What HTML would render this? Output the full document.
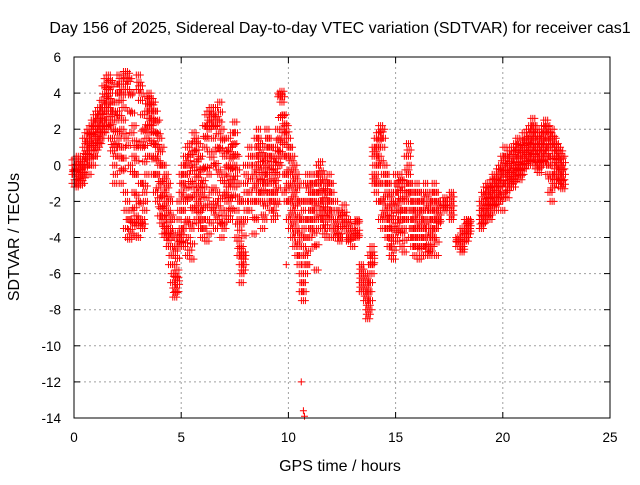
<!DOCTYPE html>
<html><head><meta charset="utf-8"><style>
body{margin:0;background:#fff}
svg{font-family:"Liberation Sans",sans-serif;font-size:13.5px}
</style></head><body>
<svg id="chart" width="640" height="480" viewBox="0 0 640 480" xmlns="http://www.w3.org/2000/svg">
<rect width="640" height="480" fill="#fff"/>
<text x="340" y="33" text-anchor="middle" font-size="16">Day 156 of 2025, Sidereal Day-to-day VTEC variation (SDTVAR) for receiver cas1</text>
<g id="grid"></g>
<g id="ticks"></g>
<g id="marks"></g>
<rect x="74" y="57" width="536" height="361" fill="none" stroke="#000" stroke-width="1"/>
<text x="340" y="471" text-anchor="middle" font-size="16">GPS time / hours</text>
<text transform="translate(19,237) rotate(-90)" text-anchor="middle" font-size="16">SDTVAR / TECUs</text>
</svg>
<script>
const xTicks=[0,5,10,15,20,25];
const yTicks=[6,4,2,0,-2,-4,-6,-8,-10,-12,-14];
const times=[0.0,0.1,0.2,0.3,0.4,0.5,0.6,0.7,0.8,0.9,1.0,1.1,1.2,1.3,1.4,1.5,1.6,1.7,1.8,1.9,2.0,2.1,2.2,2.3,2.4,2.5,2.6,2.7,2.8,2.9,3.0,3.1,3.2,3.3,3.4,3.5,3.6,3.7,3.8,3.9,4.0,4.1,4.2,4.3,4.4,4.5,4.6,4.7,4.8,4.9,5.0,5.1,5.2,5.3,5.4,5.5,5.6,5.7,5.8,5.9,6.0,6.1,6.2,6.3,6.4,6.5,6.6,6.7,6.8,6.9,7.0,7.1,7.2,7.3,7.4,7.5,7.6,7.7,7.8,7.9,8.0,8.2,8.4,8.5,8.6,8.7,8.8,8.9,9.0,9.1,9.2,9.3,9.4,9.5,9.6,9.7,9.8,9.9,10.0,10.1,10.2,10.3,10.4,10.5,10.6,10.7,10.8,10.9,11.0,11.1,11.2,11.3,11.4,11.5,11.6,11.7,11.8,11.9,12.0,12.2,12.4,12.6,12.8,13.0,13.2,13.4,13.6,13.7,13.8,13.9,14.0,14.1,14.2,14.3,14.4,14.5,14.6,14.7,14.8,14.9,15.0,15.1,15.2,15.3,15.4,15.5,15.6,15.7,15.8,15.9,16.0,16.1,16.2,16.3,16.4,16.5,16.6,16.7,16.8,16.9,17.0,17.3,17.6,17.9,18.1,18.3,18.4,19.0,19.1,19.2,19.3,19.4,19.5,19.6,19.7,19.8,19.9,20.0,20.1,20.2,20.3,20.4,20.5,20.6,20.7,20.8,20.9,21.0,21.1,21.2,21.3,21.4,21.5,21.6,21.7,21.8,21.9,22.0,22.1,22.2,22.3,22.4,22.5,22.6,22.7,22.8];
const values=[
[-0.5,0,-1,0.3],[-0.3,0.4,-0.8,-1.2],[0,-0.5,-1,0.5],[-0.2,0.3,-1.1,-0.6],[0.2,-0.4,-1,0],[1,0.3,-0.5,1.5],[1.8,0.8,0,1.2],[2,1.5,0.5,-0.5],[2.2,1.2,0.4,1.8],[2.5,1.8,1,0],
[2.8,2,1.2,0.5],[3,2.2,1.5,1],[3.2,2.5,1.8,1.2],[3.6,2.8,2.2,1.5],[4.4,3.5,2.5,1.8],[4.8,3.8,3,2],[5,4.2,3.2,2.2],[4.7,4,3,1.5],[3.5,2.5,1.5,0.8],[2.8,1,0,-1],
[4.5,3.5,2.5,1.2],[5,4,1.5,0.5],[4.8,3.6,0.4,-1],[3.9,2.5,1,-0.2],[5.2,4.5,-1.5,-3.5],[5.1,4.2,-2,-4],[4.8,3,-3,-4.1],[4,1.8,-2.5,-3.8],[2.2,0.5,-1.5,-3.2],[1,-0.5,-2.8,-3.9],
[5,4.2,-2,-4],[4.4,3.6,-1,-3.2],[2.8,1,-3,-3.5],[2,0.2,-2.5,-1.5],[3.8,3,1.5,-0.5],[4,3.4,2.6,1.8],[3.7,3,2.2,0.5],[3.5,2.5,1.2,-0.5],[3,1.8,0.5,-1.5],[2.5,1,-0.5,-2],
[1.5,0,-1.8,-2.8],[1,-1,-2.4,-3.2],[0,-1.5,-3,-3.8],[-0.5,-2,-3.5,-4],[-1,-2.5,-3.8,-4.5],[-2,-3.5,-4.5,-5.5],[-3,-4.5,-5.5,-6.5],[-4,-5.5,-6.8,-7.3],[-4.5,-5.8,-7,-6.2],[-2,-3,-4.5,-4],
[-0.5,-1.5,-3.5,-4.2],[0,-1,-2.5,-4.5],[0.5,-0.5,-2,-4.3],[1,-0.5,-3,-5],[1.2,0,-1.8,-4.7],[0.6,-1.2,-3.5,-5.2],[1.8,0.8,-1,-2.5],[1.5,0.2,-1.5,-3],[1.2,-0.5,-2,-3.2],[0.5,-1,-2.5,-3.5],
[-0.2,-1.5,-3,-4],[2.2,1,-1.2,-3.5],[2.8,1.5,-1.8,-4.2],[3,2,-0.5,-3.8],[3.2,2.4,-1.5,-3.2],[2.8,1.5,0,-2.5],[3.2,2.2,-2,-3.5],[2.5,1,-1.5,-3],[3.5,2.4,-0.5,-3.2],[2,0.8,-2.5,-4],
[1.5,-0.5,-2.8,-3.5],[0.8,-1,-2.5,-1.5],[1.5,0,-1.2,-2.8],[1,-0.2,-1.8,-3],[1.8,0.5,-0.8,-2.5],[2.4,1.2,0,-1.2],[0.5,-1,-2.5,-4],[-1,-3,-4.2,-5],[-2,-4.5,-5.5,-6.5],[-3,-4.8,-5.2,-5.8],
[0,-1,-2,-3],[1,0,-1.5,-2.5],[0.5,-0.5,-2,-3.8],[1.5,0.5,-1,-3],[2,1,0,-1.5],[1.2,0.2,-1,-2],[0.5,-0.8,-2,-3.5],[1,-0.5,-1.5,-3],
[2,1,0,-1],[1.5,0.5,-1,-2],[1,0,-1.5,-2.5],[0.2,-1,-2,-3],[1,-0.2,-1.5,-2.8],[2,0.8,-0.5,-2],[4,3.8,1.5,0],[4.1,3.5,2,0.5],[2.8,1.8,0.5,-1.5],[2.2,1.5,-0.5,-2],
[1.5,0.5,-1,-3],[1,-0.5,-2,-3.5],[0.5,-1,-2.5,-4],[0,-1.5,-3,-4.5],[-0.5,-2,-3.5,-5],[-1,-3,-4.5,-5.5],[-2,-4,-6,-7],[-2.5,-4.5,-6.5,-7.5],[-1,-3,-5,-6],[-0.5,-2,-4,-5.5],
[-1,-2,-3,-4],[-0.5,-1.5,-2.5,-3.5],[-1,-2,-3,-4.5],[-0.5,-1.5,-3,-5.8],[0,-1,-2,-3.5],[0.2,-0.8,-2,-3],[-0.5,-1.5,-2.5,-3.5],[-0.8,-1.8,-2.8,-3.8],[-1,-2,-3,-4],[-0.5,-1.5,-2.5,-3],
[-1,-2,-3,-4],[-2,-3,-3.5,-4],[-2.5,-3,-3.8,-4.2],[-2.2,-3,-3.5,-2.8],[-3,-3.5,-4,-4.2],[-3.5,-4,-3.5,-4.5],[-3,-3.2,-4,-3.8],[-5.5,-6,-6.5,-7],[-6,-6.5,-7,-7.5],[-6.5,-7.5,-8,-8.5],[-5,-6,-7,-8],[-4.5,-5.5,-4.8,-6],
[1,0.5,-0.5,-1],[1.5,0.5,-0.5,-1.5],[1.8,1,0,-2],[2.2,1.5,-1,-3],[2,1,-2,-3.5],[0,-1,-2.5,-3],[-0.5,-1.5,-3,-4],[-1,-2.5,-3.5,-4.5],[-1.5,-2.8,-4,-5],[-2,-3,-4.2,-5.2],
[-0.5,-1.5,-3,-4],[-1,-2,-3.2,-4.2],[-0.5,-1.2,-2.5,-3.5],[-0.8,-2,-3,-4.5],[-1,-2.5,-3.5,-4.8],[0.5,-1,-2,-3],[1.2,0.5,-0.5,-1.5],[-1,-2,-3,-4],[-1.5,-2.5,-3.5,-4.5],[-2,-3,-4,-5],
[-1,-2,-3.5,-4.5],[-1.5,-2.5,-4,-5.2],[-2,-3,-4,-5],[-1.5,-2.5,-3.5,-4.5],[-1,-2.5,-4,-5],[-1.5,-3,-4,-4.8],[-2,-3,-4.5,-5],[-1.5,-2.5,-3.5,-4.5],[-1,-2,-3,-4],[-1.5,-2.5,-3.5,-5],
[-2,-2.5,-3,-3.2],[-1.8,-2.2,-2.5,-2],[-3,-2.5,-2,-1.5],[-4,-4.5,-4,-4.2],[-3.5,-4,-4.5,-4.8],[-3,-3.5,-3.8,-4.2],[-3,-3.2,-3.5,-3.8],
[-2,-2.5,-3,-3.5],[-1.5,-2,-2.8,-3.2],[-1.2,-2,-2.5,-3],[-1,-1.5,-2.2,-2.8],[-1.2,-1.8,-2.5,-3],[-0.8,-1.5,-2,-2.5],[-0.5,-1,-1.8,-2.2],[-0.8,-1.2,-1.8,-2.5],[-0.2,-0.8,-1.5,-2],[0,-0.5,-1.2,-2],
[0.5,0,-1,-2.5],[1,0,-0.5,-1.5],[0.5,-0.3,-1,-1.8],[0.8,0,-0.8,-1.2],[1,0.2,-0.5,-1],[0.8,0,-0.6,-1.2],[1.2,0.5,-0.2,-0.8],[1.5,0.8,0,-0.5],[1,0.4,-0.3,-0.8],[1.4,0.8,0.2,-0.5],
[1.8,1,0.4,-0.2],[1.5,1,0.2,0.8],[2,1.2,0.5,0],[2.2,1.5,0.8,0.2],[2.6,1.8,1,0.3],[2.2,1.4,0.6,0],[2,1.2,0.5,-0.2],[1.5,0.8,0.2,-0.4],[1.8,1.2,0.5,0],[2.2,1.5,0.8,0.2],
[2.5,1.8,1,0.3],[2.2,1.5,0.5,-0.5],[1.8,1,0,-1.5],[2,1.2,-0.5,-2],[1.5,0.8,0,-1],[1.2,0.5,-0.2,-0.8],[1,0.3,-0.5,-1],[0.8,0,-0.5,-1.2],[0.5,-0.2,-0.8,-1.3]];
const outlierTimes=[10.6,10.7,10.75,9.9];
const outlierValues=[-12,-13.6,-13.9,-5.5];

const X0=74,X1=610,Y0=418,Y1=57;
function xs(t){return X0+(t-0)/(25-0)*(X1-X0);}
function ys(v){return Y0-(v-(-14))/(6-(-14))*(Y0-Y1);}
const NS='http://www.w3.org/2000/svg';
const grid=document.getElementById('grid'),ticks=document.getElementById('ticks'),marks=document.getElementById('marks');
function mk(tag,attrs,parent){const e=document.createElementNS(NS,tag);for(const k in attrs)e.setAttribute(k,attrs[k]);parent.appendChild(e);return e;}
xTicks.forEach(t=>{const x=xs(t);
 if(t>0&&t<25){const l=mk('line',{x1:x,x2:x,y1:Y1,y2:Y0,stroke:'#a0a0a0','stroke-dasharray':'2,3'},grid);
 
 }
 mk('line',{x1:x,x2:x,y1:Y0,y2:Y0-6,stroke:'#000'},ticks);
 mk('line',{x1:x,x2:x,y1:Y1,y2:Y1+6,stroke:'#000'},ticks);
 const tx=mk('text',{x:x,y:Y0+24,'text-anchor':'middle'},ticks);tx.textContent=t;
 
 
});
yTicks.forEach(v=>{const y=ys(v);
 if(v<6&&v>-14){const l=mk('line',{x1:X0,x2:X1,y1:y,y2:y,stroke:'#a0a0a0','stroke-dasharray':'2,3'},grid);
 
 }
 mk('line',{x1:X0,x2:X0+6,y1:y,y2:y,stroke:'#000'},ticks);
 mk('line',{x1:X1,x2:X1-6,y1:y,y2:y,stroke:'#000'},ticks);
 const tx=mk('text',{x:X0-13,y:y+5,'text-anchor':'end'},ticks);tx.textContent=v;
 
 
});
let d='';
function plus(t,v){const x=xs(t),y=ys(v);
 for(const o of [-2,0,2]){d+='M'+(x+o-3.5)+' '+y+'h7M'+(x+o)+' '+(y-3.5)+'v7';}}
times.forEach((t,i)=>{values[i].forEach(v=>plus(t,v));
 const vv=values[i];for(let k=0;k<vv.length-1;k++){plus(t+0.03,(vv[k]+vv[k+1])/2);}});
outlierTimes.forEach((t,i)=>{const x=xs(t),y=ys(outlierValues[i]);d+='M'+(x-3.5)+' '+y+'h7M'+x+' '+(y-3.5)+'v7';});
const p=mk('path',{d:d,stroke:'#ff0000','stroke-width':'1',fill:'none'},marks);


</script>
</body></html>
